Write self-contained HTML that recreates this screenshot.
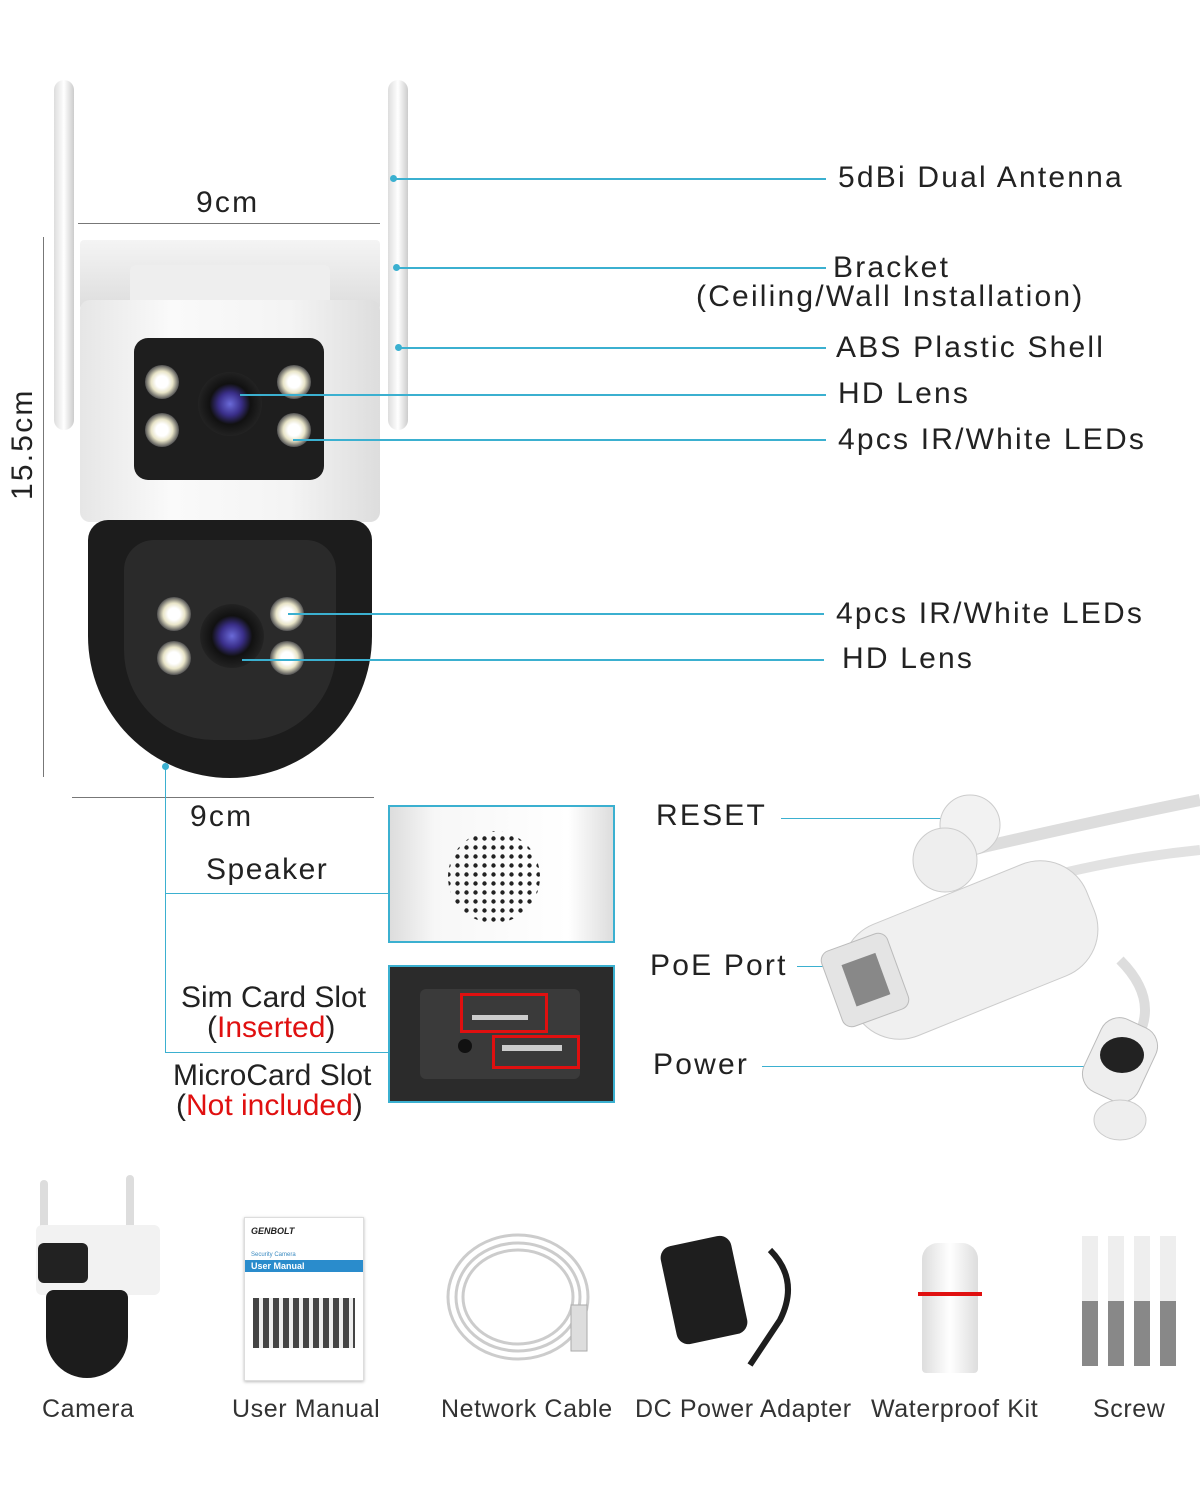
<!DOCTYPE html>
<html><head><meta charset="utf-8"><style>
body{margin:0;width:1200px;height:1500px;background:#fff;position:relative;overflow:hidden;font-family:"Liberation Sans",sans-serif;color:#222}
.a{position:absolute}
.t{position:absolute;font-size:30px;letter-spacing:2.2px;white-space:nowrap;line-height:1}
.ln{position:absolute;height:2px;background:#3bb0d0}
.dot{position:absolute;width:7px;height:7px;border-radius:50%;background:#3bb0d0}
.led{position:absolute;width:34px;height:34px;border-radius:50%;background:radial-gradient(circle,#fff 25%,#e8e4c8 45%,#555 70%,#333 100%)}
.lens{position:absolute;width:64px;height:64px;border-radius:50%;background:radial-gradient(circle,#6a6ad8 0,#3a2f8a 25%,#111 45%,#222 70%,#444 100%)}
.bl{position:absolute;font-size:25px;letter-spacing:0.6px;white-space:nowrap;color:#333}
</style></head><body>
<div class="a" style="left:54px;top:80px;width:20px;height:350px;border-radius:10px;background:linear-gradient(90deg,#ddd,#fff,#ccc)"></div>
<div class="a" style="left:388px;top:80px;width:20px;height:350px;border-radius:10px;background:linear-gradient(90deg,#ddd,#fff,#ccc)"></div>
<div class="a" style="left:80px;top:240px;width:300px;height:70px;background:linear-gradient(#f4f4f4,#ddd);border-radius:4px"></div>
<div class="a" style="left:130px;top:265px;width:200px;height:40px;background:#eee;border-radius:6px"></div>
<div class="a" style="left:80px;top:300px;width:300px;height:222px;background:linear-gradient(90deg,#e6e6e6,#fafafa 30%,#f4f4f4 70%,#ddd);border-radius:10px"></div>
<div class="a" style="left:134px;top:338px;width:190px;height:142px;background:#1e1e1e;border-radius:14px"></div>
<div class="led" style="left:145px;top:365px"></div><div class="led" style="left:277px;top:365px"></div>
<div class="led" style="left:145px;top:413px"></div><div class="led" style="left:277px;top:413px"></div>
<div class="lens" style="left:198px;top:372px"></div>
<div class="a" style="left:88px;top:520px;width:284px;height:258px;background:#1c1c1c;border-radius:20px 20px 142px 142px"></div>
<div class="a" style="left:124px;top:540px;width:212px;height:200px;background:#2a2a2a;border-radius:30px 30px 90px 90px"></div>
<div class="led" style="left:157px;top:597px"></div><div class="led" style="left:270px;top:597px"></div>
<div class="led" style="left:157px;top:641px"></div><div class="led" style="left:270px;top:641px"></div>
<div class="lens" style="left:200px;top:604px"></div>
<div class="a" style="left:78px;top:223px;width:302px;height:1px;background:#777"></div>
<div class="t" style="left:196px;top:188px">9cm</div>
<div class="a" style="left:43px;top:237px;width:1px;height:540px;background:#777"></div>
<div class="t" style="left:8px;top:500px;transform:rotate(-90deg);transform-origin:0 0">15.5cm</div>
<div class="a" style="left:72px;top:797px;width:302px;height:1px;background:#777"></div>
<div class="t" style="left:190px;top:802px">9cm</div>
<div class="ln" style="left:394px;top:178px;width:432px"></div><div class="dot" style="left:390px;top:175px"></div>
<div class="t" style="left:838px;top:163px">5dBi Dual Antenna</div>
<div class="ln" style="left:396px;top:267px;width:430px"></div><div class="dot" style="left:393px;top:264px"></div>
<div class="t" style="left:833px;top:253px">Bracket</div>
<div class="t" style="left:696px;top:282px">(Ceiling/Wall Installation)</div>
<div class="ln" style="left:398px;top:347px;width:428px"></div><div class="dot" style="left:395px;top:344px"></div>
<div class="t" style="left:836px;top:333px">ABS Plastic Shell</div>
<div class="ln" style="left:240px;top:394px;width:586px"></div>
<div class="t" style="left:838px;top:379px">HD Lens</div>
<div class="ln" style="left:293px;top:439px;width:533px"></div>
<div class="t" style="left:838px;top:425px">4pcs IR/White LEDs</div>
<div class="ln" style="left:288px;top:613px;width:536px"></div>
<div class="t" style="left:836px;top:599px">4pcs IR/White LEDs</div>
<div class="ln" style="left:242px;top:659px;width:582px"></div>
<div class="t" style="left:842px;top:644px">HD Lens</div>
<div class="a" style="left:165px;top:766px;width:1px;height:287px;background:#3bb0d0"></div>
<div class="dot" style="left:162px;top:763px"></div>
<div class="a" style="left:165px;top:893px;width:224px;height:1px;background:#3bb0d0"></div>
<div class="a" style="left:165px;top:1052px;width:224px;height:1px;background:#3bb0d0"></div>
<div class="t" style="left:206px;top:855px;letter-spacing:1.5px">Speaker</div>
<div class="t" style="left:181px;top:983px;letter-spacing:0">Sim Card Slot</div>
<div class="t" style="left:207px;top:1013px;letter-spacing:0">(<span style="color:#e01010">Inserted</span>)</div>
<div class="t" style="left:173px;top:1061px;letter-spacing:0">MicroCard Slot</div>
<div class="t" style="left:176px;top:1091px;letter-spacing:0">(<span style="color:#e01010">Not included</span>)</div>
<div class="a" style="left:388px;top:805px;width:223px;height:134px;border:2px solid #3bb0d0;background:linear-gradient(90deg,#ddd,#f7f7f7 20%,#fff 80%,#ddd)">
<svg width="223" height="134"><defs><pattern id="p" width="9" height="9" patternUnits="userSpaceOnUse"><circle cx="4.5" cy="4.5" r="2.2" fill="#222"/></pattern></defs><circle cx="104" cy="70" r="46" fill="url(#p)"/></svg></div>
<div class="a" style="left:388px;top:965px;width:223px;height:134px;border:2px solid #3bb0d0;background:#2b2b2b">
<div class="a" style="left:30px;top:22px;width:160px;height:90px;background:#3a3a3a;border-radius:6px"></div>
<div class="a" style="left:70px;top:26px;width:82px;height:34px;border:3px solid #e01010"></div>
<div class="a" style="left:102px;top:68px;width:82px;height:28px;border:3px solid #e01010"></div>
<div class="a" style="left:112px;top:78px;width:60px;height:6px;background:#ccc"></div>
<div class="a" style="left:82px;top:48px;width:56px;height:5px;background:#ccc"></div>
<div class="a" style="left:68px;top:72px;width:14px;height:14px;border-radius:50%;background:#111"></div>
</div>
<div class="t" style="left:656px;top:801px">RESET</div>
<div class="ln" style="left:781px;top:818px;width:186px;height:1px"></div><div class="dot" style="left:964px;top:815px"></div>
<div class="t" style="left:650px;top:951px">PoE Port</div>
<div class="ln" style="left:797px;top:966px;width:64px;height:1px"></div><div class="dot" style="left:858px;top:963px"></div>
<div class="t" style="left:653px;top:1050px">Power</div>
<div class="ln" style="left:762px;top:1066px;width:330px;height:1px"></div><div class="dot" style="left:1089px;top:1063px"></div>
<svg class="a" style="left:800px;top:780px" width="400" height="370">
<path d="M170 70 Q300 40 400 20" stroke="#ddd" stroke-width="12" fill="none"/>
<path d="M200 110 Q300 80 400 70" stroke="#e2e2e2" stroke-width="10" fill="none"/>
<path d="M320 180 Q370 230 320 280" stroke="#ddd" stroke-width="10" fill="none"/>
<rect x="40" y="110" width="260" height="120" rx="50" fill="#f0f0f0" stroke="#ccc" transform="rotate(-22 170 170)"/>
<circle cx="170" cy="45" r="30" fill="#f2f2f2" stroke="#ccc"/>
<circle cx="145" cy="80" r="32" fill="#eee" stroke="#ccc"/>
<rect x="30" y="160" width="70" height="80" rx="10" fill="#e4e4e4" stroke="#bbb" transform="rotate(-20 65 200)"/>
<rect x="48" y="178" width="36" height="44" fill="#888" transform="rotate(-20 65 200)"/>
<rect x="290" y="240" width="60" height="80" rx="20" fill="#eee" stroke="#bbb" transform="rotate(25 320 280)"/>
<ellipse cx="322" cy="275" rx="22" ry="18" fill="#222"/>
<ellipse cx="320" cy="340" rx="26" ry="20" fill="#eee" stroke="#ccc"/>
</svg>
<div class="a" style="left:40px;top:1180px;width:8px;height:80px;background:#ddd;border-radius:4px"></div>
<div class="a" style="left:126px;top:1175px;width:8px;height:80px;background:#ddd;border-radius:4px"></div>
<div class="a" style="left:36px;top:1225px;width:124px;height:70px;background:#f2f2f2;border-radius:6px"></div>
<div class="a" style="left:38px;top:1243px;width:50px;height:40px;background:#222;border-radius:6px"></div>
<div class="a" style="left:46px;top:1290px;width:82px;height:88px;background:#1c1c1c;border-radius:8px 8px 42px 42px"></div>
<div class="bl" style="left:42px;top:1395px">Camera</div>
<div class="a" style="left:244px;top:1217px;width:118px;height:162px;background:#fff;border:1px solid #ddd;box-shadow:0 1px 3px #bbb">
<div style="font:italic bold 9px 'Liberation Sans';margin:8px 6px">GENBOLT</div>
<div style="font:6px 'Liberation Sans';color:#3a8ac0;margin:16px 6px 2px">Security Camera</div>
<div style="background:#2a8ccc;color:#fff;font:bold 9px 'Liberation Sans';padding:1px 6px">User Manual</div>
<div style="margin:26px 8px;height:50px;background:repeating-linear-gradient(90deg,#444 0 6px,#eee 6px 10px)"></div></div>
<div class="bl" style="left:232px;top:1395px">User Manual</div>
<svg class="a" style="left:436px;top:1225px" width="180" height="150"><g fill="none" stroke="#ccc" stroke-width="3"><ellipse cx="82" cy="72" rx="70" ry="62"/><ellipse cx="82" cy="72" rx="62" ry="54"/><ellipse cx="82" cy="72" rx="55" ry="47"/></g><rect x="135" y="80" width="16" height="46" fill="#ddd" stroke="#aaa"/></svg>
<div class="bl" style="left:441px;top:1395px">Network Cable</div>
<div class="a" style="left:668px;top:1240px;width:72px;height:100px;background:#1e1e1e;border-radius:12px;transform:rotate(-12deg)"></div>
<svg class="a" style="left:730px;top:1240px" width="80" height="130"><path d="M40 10 Q70 40 50 80 Q30 110 20 125" stroke="#1e1e1e" stroke-width="6" fill="none"/></svg>
<div class="bl" style="left:635px;top:1395px">DC Power Adapter</div>
<div class="a" style="left:922px;top:1243px;width:56px;height:130px;background:linear-gradient(90deg,#ddd,#fff,#ddd);border-radius:16px 16px 4px 4px"></div>
<div class="a" style="left:918px;top:1292px;width:64px;height:4px;background:#e01010"></div>
<div class="bl" style="left:871px;top:1395px">Waterproof Kit</div>
<div class="a" style="left:1082px;top:1236px;width:16px;height:130px;background:linear-gradient(#eee 50%,#888 50%)"></div>
<div class="a" style="left:1108px;top:1236px;width:16px;height:130px;background:linear-gradient(#eee 50%,#888 50%)"></div>
<div class="a" style="left:1134px;top:1236px;width:16px;height:130px;background:linear-gradient(#eee 50%,#888 50%)"></div>
<div class="a" style="left:1160px;top:1236px;width:16px;height:130px;background:linear-gradient(#eee 50%,#888 50%)"></div>
<div class="bl" style="left:1093px;top:1395px">Screw</div>
</body></html>
